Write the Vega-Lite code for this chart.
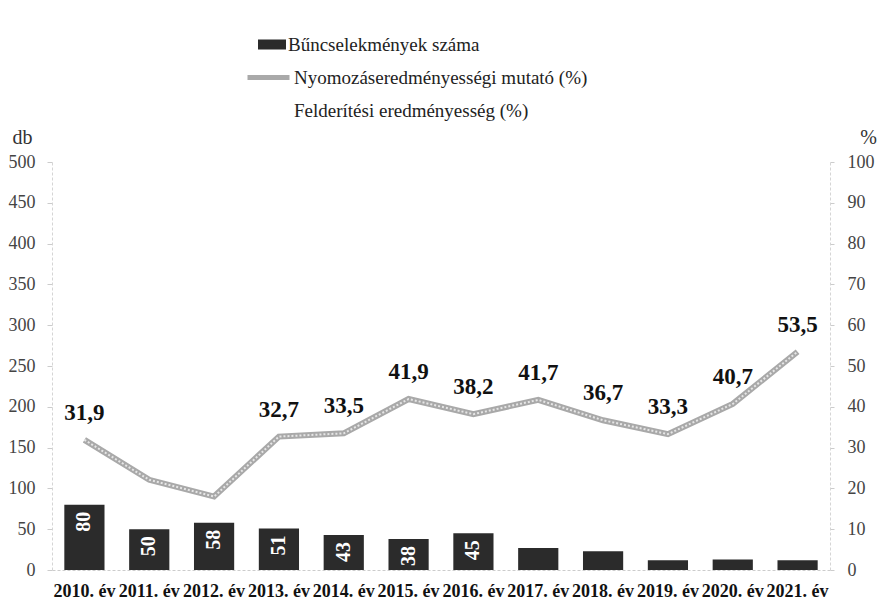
{
  "$schema": "https://vega.github.io/schema/vega-lite/v6.json",
  "width": 778,
  "height": 408,
  "autosize": {"type": "none"},
  "padding": {"left": 52, "top": 162, "right": 58, "bottom": 34},
  "background": "white",
  "config": {
    "view": {"stroke": null},
    "locale": {"number": {"decimal": ",", "thousands": " ", "grouping": [3], "currency": ["", " Ft"]}},
    "font": "Liberation Serif, Times New Roman, serif",
    "axis": {"labelFont": "Liberation Serif, Times New Roman, serif", "titleFont": "Liberation Serif, Times New Roman, serif", "grid": false},
    "legend": {"labelFont": "Liberation Serif, Times New Roman, serif", "padding": 0, "labelLimit": 0}
  },
  "data": {
    "values": [
      {"ev": "2010. év", "db": 80, "pct": 31.9},
      {"ev": "2011. év", "db": 50, "pct": 22.1},
      {"ev": "2012. év", "db": 58, "pct": 18.0},
      {"ev": "2013. év", "db": 51, "pct": 32.7},
      {"ev": "2014. év", "db": 43, "pct": 33.5},
      {"ev": "2015. év", "db": 38, "pct": 41.9},
      {"ev": "2016. év", "db": 45, "pct": 38.2},
      {"ev": "2017. év", "db": 27, "pct": 41.7},
      {"ev": "2018. év", "db": 23, "pct": 36.7},
      {"ev": "2019. év", "db": 12, "pct": 33.3},
      {"ev": "2020. év", "db": 13, "pct": 40.7},
      {"ev": "2021. év", "db": 12, "pct": 53.5}
    ]
  },
  "encoding": {
    "x": {
      "field": "ev",
      "type": "nominal",
      "sort": null,
      "scale": {"paddingInner": 0.38, "paddingOuter": 0.19},
      "axis": {
        "title": null,
        "labelAngle": 0,
        "labelFontSize": 18,
        "labelFontWeight": "bold",
        "labelColor": "#111111",
        "labelPadding": 12,
        "labelLimit": 0,
        "ticks": false,
        "domainColor": "#cccccc",
        "domainDash": [3, 2]
      }
    }
  },
  "layer": [
    {
      "encoding": {
        "y": {
          "field": "db",
          "type": "quantitative",
          "scale": {"domain": [0, 500]},
          "axis": {
            "values": [0, 50, 100, 150, 200, 250, 300, 350, 400, 450, 500],
            "title": "db",
            "titleAngle": 0,
            "titleX": -30,
            "titleY": -25,
            "titleAlign": "center",
            "titleBaseline": "middle",
            "titleFontSize": 20,
            "titleFontWeight": "normal",
            "titleColor": "#333333",
            "labelFontSize": 18,
            "labelColor": "#444444",
            "labelPadding": 12,
            "tickSize": 5,
            "tickColor": "#cccccc",
            "domainColor": "#d5d5d5",
            "domainDash": [3, 2]
          }
        }
      },
      "layer": [
        {
          "mark": {"type": "bar"},
          "encoding": {
            "fill": {
              "datum": "Bűncselekmények száma",
              "type": "nominal",
              "scale": {"domain": ["Bűncselekmények száma"], "range": ["#2b2b2b"]},
              "legend": {
                "title": null,
                "orient": "none",
                "legendX": 206,
                "legendY": -134,
                "symbolType": "M-1,-0.36H1V0.36H-1Z",
                "symbolSize": 784,
                "symbolStrokeWidth": 0,
                "labelFontSize": 19,
                "labelColor": "#222222",
                "labelOffset": 2,
                "labelLimit": 0,
                "clipHeight": 33,
                "rowPadding": 0
              }
            }
          }
        },
        {
          "transform": [{"filter": "datum.db >= 30"}],
          "mark": {
            "type": "text",
            "angle": 270,
            "align": "right",
            "baseline": "middle",
            "dx": -7,
            "font": "Liberation Serif, Times New Roman, serif",
            "fontSize": 20,
            "fontWeight": "bold",
            "color": "white"
          },
          "encoding": {
            "text": {"field": "db", "type": "quantitative"}
          }
        }
      ]
    },
    {
      "encoding": {
        "y": {
          "field": "pct",
          "type": "quantitative",
          "scale": {"domain": [0, 100]},
          "axis": {
            "orient": "right",
            "values": [0, 10, 20, 30, 40, 50, 60, 70, 80, 90, 100],
            "title": "%",
            "titleAngle": 0,
            "titleX": 38,
            "titleY": -25,
            "titleAlign": "center",
            "titleBaseline": "middle",
            "titleFontSize": 20,
            "titleFontWeight": "normal",
            "titleColor": "#333333",
            "labelFontSize": 18,
            "labelColor": "#444444",
            "labelPadding": 13,
            "tickSize": 4,
            "tickColor": "#cccccc",
            "domainColor": "#d5d5d5",
            "domainDash": [3, 2]
          }
        }
      },
      "layer": [
        {
          "mark": {"type": "line", "strokeWidth": 6, "strokeJoin": "miter"},
          "encoding": {
            "stroke": {
              "datum": "Nyomozáseredményességi mutató (%)",
              "type": "nominal",
              "scale": {
                "domain": ["Nyomozáseredményességi mutató (%)", "Felderítési eredményesség (%)"],
                "range": ["#a9a9a9", "#ffffff"]
              },
              "legend": {
                "title": null,
                "orient": "none",
                "legendX": 193,
                "legendY": -101,
                "symbolType": "stroke",
                "symbolSize": 1764,
                "symbolStrokeWidth": 5,
                "labelFontSize": 19,
                "labelColor": "#222222",
                "labelOffset": 2,
                "labelLimit": 0,
                "clipHeight": 33,
                "rowPadding": 0
              }
            }
          }
        },
        {
          "mark": {"type": "line", "strokeWidth": 2, "color": "#e6e6e6", "strokeDash": [2, 2]},
          "encoding": {}
        },
        {
          "transform": [{"filter": "datum.ev != '2011. év' && datum.ev != '2012. év'"}],
          "mark": {
            "type": "text",
            "dy": -27,
            "font": "Liberation Serif, Times New Roman, serif",
            "fontSize": 23,
            "fontWeight": "bold",
            "color": "#111111"
          },
          "encoding": {
            "text": {"field": "pct", "type": "quantitative", "format": ".1f"}
          }
        }
      ]
    }
  ],
  "resolve": {"scale": {"y": "independent"}}
}
